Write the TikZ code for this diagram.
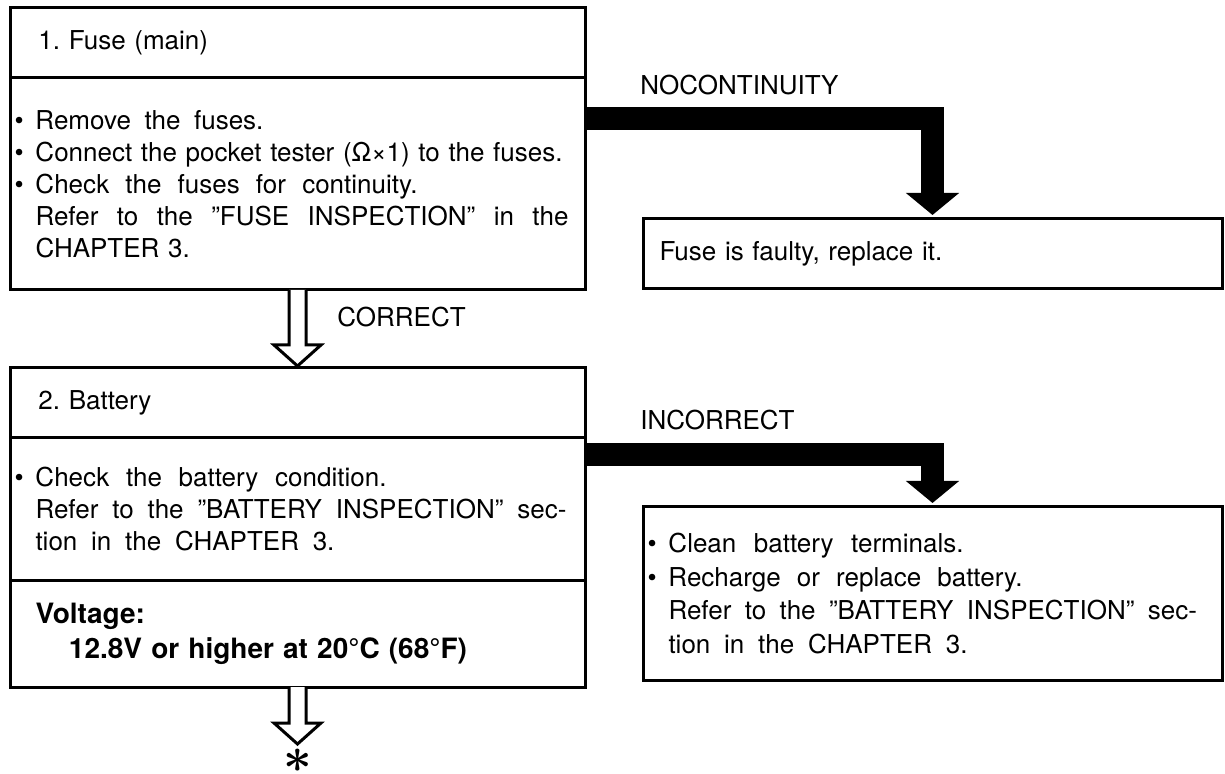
\documentclass[tikz,border=0pt]{standalone}
\usepackage{fontspec}
\setmainfont{TeX Gyre Heros}
\usepackage{bm}
\usetikzlibrary{positioning, arrows.meta, calc}
\frenchspacing
\newcommand{\bul}{\makebox[10.5pt][l]{\textbullet}}
\newcommand{\ind}{\hspace*{10.5pt}}
% line spread out to a given width
\newcommand{\fline}[2]{\hbox to #1{\spaceskip=.278em plus 1fil #2}}
% hollow arrow from a box bottom to a tip point
\newcommand{\openarrow}[2]{%
  \draw[hollow] ([xshift=-4.25pt]#1) -- ([xshift=-4.25pt, yshift=11.5pt]#2)
    -- ([xshift=-11.75pt, yshift=11.5pt]#2) -- ([yshift=1pt]#2)
    -- ([xshift=11.75pt, yshift=11.5pt]#2) -- ([xshift=4.25pt, yshift=11.5pt]#2)
    -- ([xshift=4.25pt]#1);}

\begin{document}
\begin{tikzpicture}[x=0.5pt, y=-0.5pt, font=\fontsize{13}{16}\selectfont,
    box/.style={draw, line width=1.5pt, minimum width=287.5pt, text width=283pt,
      inner xsep=2.25pt, outer sep=0pt, align=left},
    sidebox/.style={box, minimum width=289.5pt, text width=285pt},
    lbl/.style={anchor=base west, inner sep=0pt},
    hollow/.style={draw, fill=white, line width=1.5pt, line join=miter},
    bigarrow/.style={line width=11.5pt, line join=miter, shorten >=2pt,
      -{Triangle[width=26pt, length=11pt]}}]
  \useasboundingbox (0,0) rectangle (1225,774);
  % Step 1: fuse
  \node[box, minimum height=35pt] (fusehead) at (297.5,43) {\hspace*{12pt}1. Fuse (main)};
  \node[box, minimum height=106pt, below=0pt of fusehead] (fusebody)
    {\bul\fline{114pt}{Remove the fuses.}\\
     \bul Connect the pocket tester (Ω×1) to the fuses.\\
     \bul\fline{191pt}{Check the fuses for continuity.}\\
     \ind\fline{266.5pt}{Refer to the ''FUSE INSPECTION'' in the}\\
     \ind CHAPTER 3.\\[4pt]};
  \node[sidebox, minimum height=35pt] (faultbox) at (932.5,254)
    {\hspace*{6pt}Fuse is faulty, replace it.};
  % Step 2: battery
  \node[box, minimum height=35pt, below=39pt of fusebody] (batthead) {\hspace*{12pt}2. Battery};
  \node[box, minimum height=71pt, below=0pt of batthead] (battbody)
    {\bul\fline{175.5pt}{Check the battery condition.}\\
     \ind\fline{265.5pt}{Refer to the ''BATTERY INSPECTION'' sec-}\\
     \ind\fline{149.5pt}{tion in the CHAPTER 3.}};
  \node[box, minimum height=53.5pt, below=0pt of battbody,
    font=\fontsize{14}{17.5}\selectfont\bfseries] (battvolt)
    {\ind Voltage:\\
     \ind\hspace*{16.75pt}\fline{199pt}{12.8V or higher at 20°C (68°F)}};
  \node[sidebox, minimum height=86.5pt, font=\fontsize{13}{16.8}\selectfont] (cleanbox) at (932.5,593.5)
    {\bul\fline{147.5pt}{Clean battery terminals.}\\
     \bul\fline{177pt}{Recharge or replace battery.}\\
     \ind\fline{264.25pt}{Refer to the ''BATTERY INSPECTION'' sec-}\\
     \ind\fline{149.5pt}{tion in the CHAPTER 3.}};
  % Labels
  \node[lbl] (nocont) at (640,95) {NOCONTINUITY};
  \node[lbl] (incorr) at (640,430) {INCORRECT};
  \node[lbl] (corr) at (337,327) {CORRECT};
  % Arrows
  \draw[bigarrow] ([yshift=-20.25pt]fusebody.north east) -| (faultbox.north);
  \draw[bigarrow] ([yshift=-8.25pt]battbody.north east) -| (cleanbox.north);
  \openarrow{fusebody.south}{batthead.north}
  \coordinate (startip) at (297.5,746);
  \openarrow{battvolt.south}{startip}
  \node[anchor=base, inner sep=0pt] (star) at (297.5,772) {\fontsize{24}{24}\selectfont$\bm{\ast}$};
\end{tikzpicture}
\end{document}
